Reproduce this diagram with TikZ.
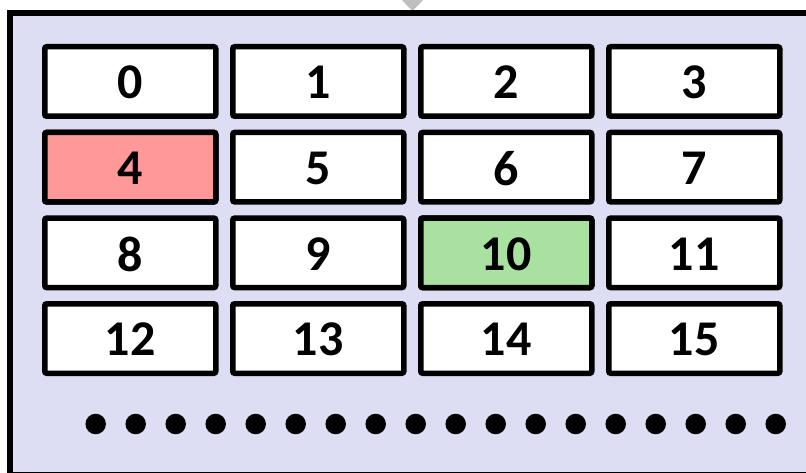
\documentclass[tikz,border=0pt]{standalone}
\usepackage{fontspec}
\setmainfont{Carlito}
\definecolor{lav}{RGB}{221,221,243}
\definecolor{redf}{RGB}{255,153,153}
\definecolor{greenf}{RGB}{169,225,160}
\definecolor{tri}{RGB}{191,191,191}
\begin{document}
\begin{tikzpicture}[x=1pt,y=-1pt,
  cell/.style={draw=black, line width=5.5pt, rounded corners=2pt, fill=white,
    minimum width=171pt, minimum height=69.5pt, inner sep=0pt, anchor=north west,
    font=\fontsize{50}{50}\selectfont\bfseries, text depth=0pt},
  dotc/.style={circle, fill=black, minimum size=20.5pt, inner sep=0pt}]
\useasboundingbox (0,0) rectangle (806,473);
\clip (0,0) rectangle (806,473);
\fill[tri] (398,-4) -- (427,-4) -- (412.5,11) -- cycle;
\draw[line width=6pt, fill=lav] (10.3,13.5) rectangle (830,475);
\foreach \r in {0,1,2,3}{
  \foreach \c in {0,1,2,3}{
    \pgfmathtruncatemacro{\n}{4*\r+\c}
    \pgfmathsetmacro{\xx}{42+188*\c}
    \pgfmathsetmacro{\yy}{44+85.67*\r}
    \node[cell] (c\n) at (\xx,\yy) {\raisebox{-2pt}{\n}};
  }
}
\node[cell, fill=redf] (c4) at (42,129.67) {\raisebox{-2pt}{4}};
\node[cell, fill=greenf] (c10) at (418,215.34) {\raisebox{-2pt}{10}};
\foreach \k in {0,...,17}{
  \node[dotc] (d\k) at (95.7+40*\k,424) {};
}
\end{tikzpicture}
\end{document}
